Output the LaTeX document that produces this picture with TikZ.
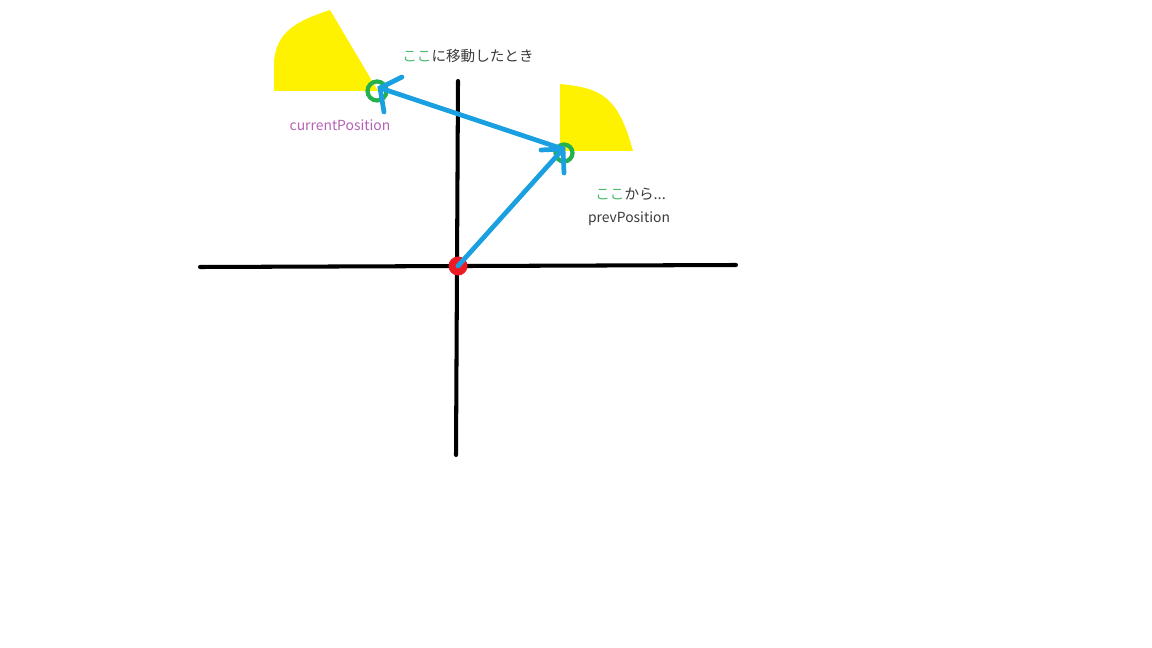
\documentclass[tikz,border=0pt]{standalone}
\usepackage{fontspec}
\setmainfont{Noto Sans CJK JP}
\definecolor{axisblack}{HTML}{000000}
\definecolor{vecblue}{HTML}{1AA0E0}
\definecolor{ptgreen}{HTML}{22B14C}
\definecolor{txtgreen}{HTML}{4CBB6C}
\definecolor{fanyellow}{HTML}{FFF200}
\definecolor{dotred}{HTML}{ED1C24}
\definecolor{txtgray}{HTML}{3A3A3A}
\definecolor{txtpurple}{HTML}{B462B4}
\begin{document}
\begin{tikzpicture}[x=0.02cm,y=-0.02cm,
  axis/.style={draw=axisblack,line width=2.3pt,line cap=round},
  vec/.style={draw=vecblue,line width=2.7pt,line cap=round},
  ring/.style={draw=ptgreen,line width=2.4pt},
  fan/.style={fill=fanyellow},
  lbl/.style={inner sep=0pt,text=txtgray,font=\fontsize{8.3pt}{10pt}\selectfont},
  sublbl/.style={inner sep=0pt,font=\fontsize{7.9pt}{9pt}\selectfont}]
\useasboundingbox (0,0) rectangle (1152,648);
% yellow fans
\fill[fan] (274,91) -- (274,62) .. controls (276,30) and (300,20) .. (330,10) -- (378,91) -- cycle;
\fill[fan] (560,151) -- (560,84) .. controls (600,88) and (618,95) .. (633,151) -- cycle;
% axes
\coordinate (xl) at (200,267);
\coordinate (xr) at (736,265);
\coordinate (yt) at (458,81);
\coordinate (yb) at (456,455);
\draw[axis] (xl) -- (xr);
\draw[axis] (yt) -- (yb);
% points
\node[circle,fill=dotred,minimum size=19*0.02cm,inner sep=0pt] (o) at (458,266) {};
\node[circle,ring,minimum size=17*0.02cm,inner sep=0pt] (prev) at (564,153) {};
\node[circle,ring,minimum size=19*0.02cm,inner sep=0pt] (cur) at (377,91) {};
\coordinate (prevtip) at (563,149);
\coordinate (curtip) at (380,88);
% vectors
\draw[vec] (o.center) -- (prevtip);
\draw[vec] (prevtip) -- (curtip);
% hand-drawn arrowheads
\coordinate (pa1) at (541,150);
\coordinate (pa2) at (564,173);
\coordinate (ca1) at (402,77);
\coordinate (ca2) at (384,112);
\draw[vec] (pa1) -- (prevtip) -- (pa2);
\draw[vec] (ca1) -- (curtip) -- (ca2);
% labels
\node[lbl,anchor=west] (t1) at (402,56) {\textcolor{txtgreen}{ここ}に移動したとき};
\node[sublbl,text=txtpurple] (t2) at (340,125) {currentPosition};
\node[lbl,anchor=west] (t3) at (595,194) {\textcolor{txtgreen}{ここ}から...};
\node[sublbl,text=txtgray] (t4) at (629,219) {prevPosition};
\end{tikzpicture}
\end{document}
